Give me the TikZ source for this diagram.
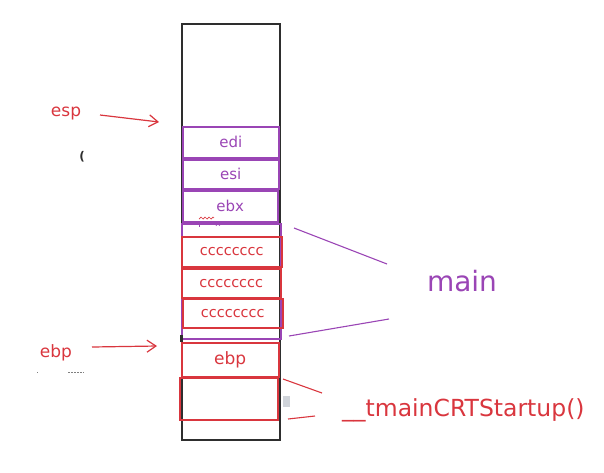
\documentclass[tikz,border=0pt]{standalone}
\usepackage{fontspec}
\setmainfont{DejaVu Sans}
\usetikzlibrary{arrows.meta}
\definecolor{pur}{HTML}{9A45B5}
\definecolor{redc}{HTML}{D9363E}
\definecolor{ink}{HTML}{2E2E2E}
\definecolor{graybox}{HTML}{D0D4DA}
\begin{document}
\begin{tikzpicture}[x=1pt,y=-1pt,
  box/.style={draw, line width=1.5pt, inner sep=0pt, anchor=north west},
  pbox/.style={box, draw=pur, text=pur, font=\fontsize{15}{15}\selectfont},
  rbox/.style={box, draw=redc, text=redc, font=\fontsize{14.5}{14.5}\selectfont},
  lbl/.style={inner sep=0pt, font=\fontsize{17}{17}\selectfont},
  rarrow/.style={draw=redc, line width=1.2pt, -{Straight Barb[length=9pt,width=12pt]}},
  pline/.style={draw=pur, line width=1.1pt},
  rline/.style={draw=redc, line width=1.1pt}]
\useasboundingbox (0,0) rectangle (604,472);
% stack
\node[box, draw=ink, minimum width=98pt, minimum height=416pt] (stack) at (181,23) {};
% saved registers
\node[pbox, minimum width=96pt, minimum height=31pt] (edi) at (182,126) {edi};
\node[pbox, minimum width=96pt, minimum height=29pt] (esi) at (182,159) {esi};
\node[pbox, minimum width=95pt, minimum height=31pt] (ebx) at (182,190) {ebx};
% main frame
\node[box, draw=pur, minimum width=99pt, minimum height=115pt] (mainframe) at (181,223) {};
\node[rbox, minimum width=100pt, minimum height=30pt] (c1) at (181,236) {cccccccc};
\node[rbox, minimum width=99pt, minimum height=29pt] (c2) at (181,268) {cccccccc};
\node[rbox, minimum width=100pt, minimum height=29pt] (c3) at (182,298) {cccccccc};
% startup frame
\node[rbox, minimum width=97pt, minimum height=34pt, font=\fontsize{17}{17}\selectfont] (ebpbox) at (181,342) {ebp};
\node[rbox, minimum width=98pt, minimum height=42pt] (retbox) at (179,377) {};
% small marks
\fill[ink] (179.5,335) rectangle (182.5,342);
\fill[graybox] (283,396) rectangle (290,407);
\node[inner sep=0pt, text=pur, font=\fontsize{9}{9}\selectfont] (xmark) at (218,224) {x};
\draw[pur, line width=0.8pt] (199,221) -- (199,227);
\draw[redc, line width=0.7pt] (199,219) -- (201,217) -- (203,219) -- (205,217) -- (207,219) -- (209,217) -- (211,219) -- (213,217) -- (214,218);
\node[inner sep=0pt, text=ink, font=\fontsize{12}{12}\selectfont\bfseries] (paren) at (82,157) {(};
\draw[gray, line width=0.8pt] (37,372) -- (38,372);
\draw[gray, line width=0.8pt, dash pattern=on 2pt off 1pt] (68,372) -- (84,372);
% labels and arrows
\node[lbl, text=redc] (esp) at (66,114) {esp};
\coordinate (esptail) at (100,115);
\coordinate (esphead) at (159,122);
\draw[rarrow] (esptail) -- (esphead);
\node[lbl, text=redc] (ebp) at (56,353) {ebp};
\coordinate (ebptail) at (92,347);
\coordinate (ebphead) at (157,346);
\draw[rarrow] (ebptail) -- (ebphead);
% main
\node[inner sep=0pt, text=pur, font=\fontsize{28}{28}\selectfont] (main) at (462,281) {main};
\coordinate (m1a) at (294,228);
\coordinate (m1b) at (387,264);
\coordinate (m2a) at (289,336);
\coordinate (m2b) at (389,319);
\draw[pline] (m1a) -- (m1b);
\draw[pline] (m2a) -- (m2b);
% tmainCRTStartup
\node[inner sep=0pt, anchor=west, text=redc, font=\fontsize{23.5}{23.5}\selectfont] (crt) at (342,410) {\_\_tmainCRTStartup()};
\coordinate (s1a) at (283,379);
\coordinate (s1b) at (322,393);
\coordinate (s2a) at (288,419);
\coordinate (s2b) at (315,416);
\draw[rline] (s1a) -- (s1b);
\draw[rline] (s2a) -- (s2b);
\end{tikzpicture}
\end{document}
